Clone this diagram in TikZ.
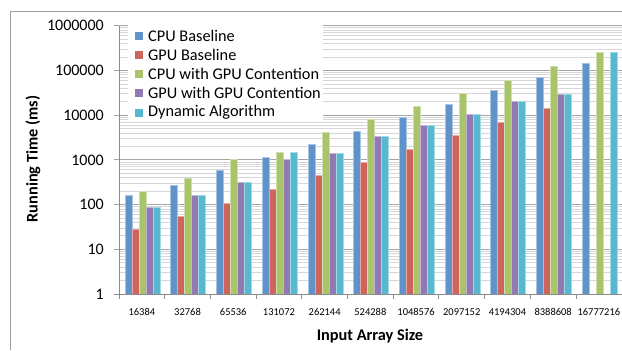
\documentclass[tikz,border=0pt]{standalone}
\usepackage{fontspec}
\setmainfont{Carlito}
\definecolor{cblue}{HTML}{5F93CA}
\definecolor{cred}{HTML}{CF645C}
\definecolor{cgreen}{HTML}{A9C46B}
\definecolor{cpurple}{HTML}{917AB3}
\definecolor{ccyan}{HTML}{57B8D0}
\definecolor{framegray}{HTML}{A0A0A0}
\definecolor{majorgray}{HTML}{A6A6A6}
\definecolor{minorgray}{HTML}{D6D6D6}
\definecolor{axisgray}{HTML}{8C8C8C}
\newcommand\drawseries[3]{%
  \foreach \v [count=\i from 0] in {#3} {
    \path[fill=#2, draw=#2!55!white, line width=0.5bp]
      ({119+45.7*\i+6+7*#1},294) rectangle ++(7,{-44.7*\v});
  }}
\begin{document}
\begin{tikzpicture}[x=1bp,y=-1bp,
  ylab/.style={anchor=east, inner sep=0pt, font=\fontsize{16bp}{19bp}\selectfont},
  xlab/.style={anchor=center, inner sep=0pt, font=\fontsize{10.5bp}{12bp}\selectfont},
  title/.style={inner sep=0pt, font=\fontsize{16.3bp}{19bp}\selectfont\bfseries},
  legtext/.style={anchor=west, inner sep=0pt, font=\fontsize{16.3bp}{19bp}\selectfont},
  legkey/.style={minimum size=8bp, inner sep=0pt, draw=none}]
\useasboundingbox (0,0) rectangle (622,350);
% outer frame
\draw[framegray, line width=1bp] (10,350) -- (10,11) -- (622,11);
% minor gridlines
\foreach \d in {0,...,5} {
  \foreach \m in {2,...,9} {
    \draw[minorgray, line width=0.8bp] (119,{294-44.7*(\d+log10(\m))}) -- (622,{294-44.7*(\d+log10(\m))});
  }}
% major gridlines
\foreach \d in {1,...,6} {
  \draw[majorgray, line width=1bp] (114,{294-44.7*\d}) -- (622,{294-44.7*\d});
}
% y labels
\foreach \lab [count=\d from 0] in {1,10,100,1000,10000,100000,1000000} {
  \node[ylab] (yl\d) at (104,{294-44.7*\d}) {\lab};
}
% bars
\drawseries{0}{cblue}{2.199,2.44,2.774,3.058,3.356,3.647,3.953,4.25,4.557,4.855,5.161}
\drawseries{1}{cred}{1.454,1.75,2.036,2.349,2.65,2.946,3.244,3.557,3.848,4.154}
\drawseries{2}{cgreen}{2.31,2.60,3.005,3.18,3.617,3.9,4.199,4.497,4.787,5.1,5.407}
\drawseries{3}{cpurple}{1.946,2.2,2.49,3.02,3.16,3.528,3.765,4.02,4.318,4.474}
\drawseries{4}{ccyan}{1.946,2.2,2.49,3.18,3.16,3.528,3.765,4.02,4.318,4.474,5.407}
% axes
\draw[axisgray, line width=1bp] (119,26) -- (119,294) -- (622,294);
\draw[axisgray, line width=1bp] (114,294) -- (119,294);
\foreach \i in {0,...,10} {
  \draw[axisgray, line width=1bp] ({119+45.7*\i},294) -- ({119+45.7*\i},299);
}
% x labels
\foreach \lab [count=\i from 0] in {16384,32768,65536,131072,262144,524288,1048576,2097152,4194304,8388608,16777216} {
  \node[xlab] (xl\i) at ({119+45.7*\i+22.85},311.7) {\lab};
}
% titles
\node[title] (xt) at (370,336) {Input Array Size};
\node[title, rotate=90] (yt) at (33,159) {Running Time (ms)};
% legend
\fill[white] (128,24) rectangle (323,122);
\foreach \c/\t [count=\k from 0] in {cblue/CPU Baseline, cred/GPU Baseline, cgreen/CPU with GPU Contention, cpurple/GPU with GPU Contention, ccyan/Dynamic Algorithm} {
  \node[legkey, fill=\c] (lk\k) at (139.3,{35.7+19.2*\k}) {};
  \node[legtext] (lt\k) at (148,{35.7+19.2*\k}) {\t};
}
\end{tikzpicture}
\end{document}
